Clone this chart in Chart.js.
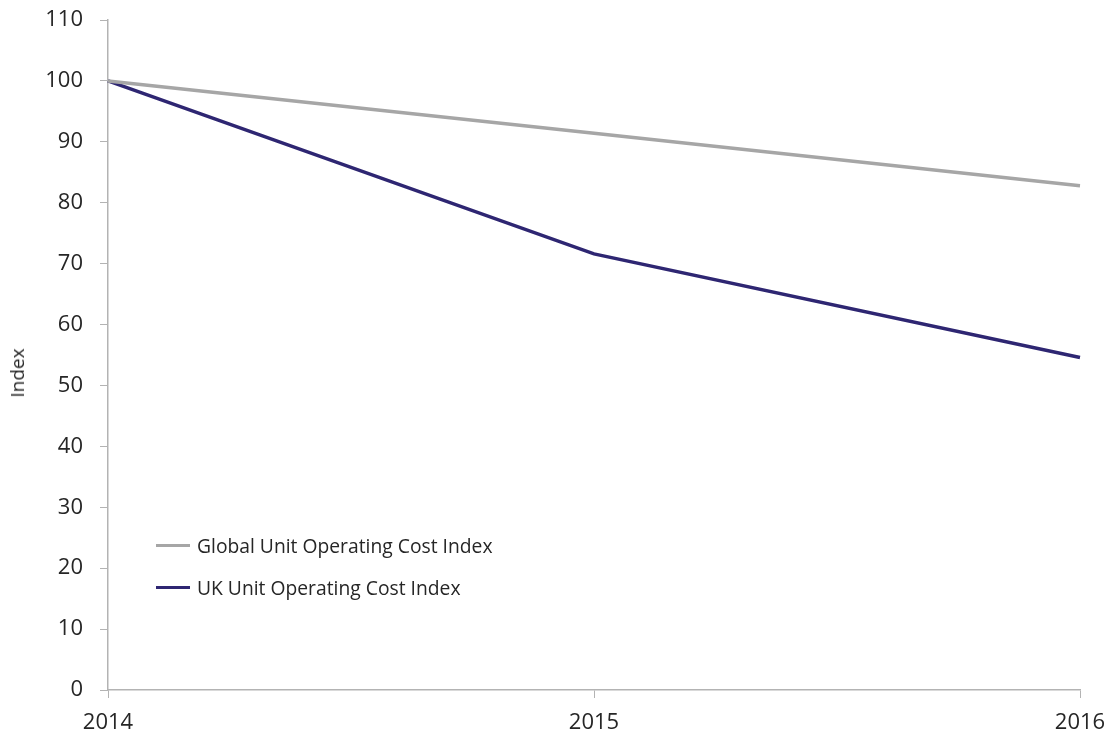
<!DOCTYPE html>
<html>
<head>
<meta charset="utf-8">
<script src="https://cdn.jsdelivr.net/npm/chart.js@4.4.1/dist/chart.umd.min.js"></script>
<style>
    html, body { margin: 0; padding: 0; background: #fff; }
    #wrap { position: relative; width: 1112px; height: 738px; }
    #legend { position: absolute; left: 156px; top: 524px; font-family: "Open Sans", sans-serif; font-size: 19.3px; color: #262626; }
    .leg-row { display: flex; align-items: center; height: 42px; }
    .leg-swatch { width: 34px; height: 3px; margin-right: 7px; }
    #ytitle { position: absolute; left: 17px; top: 373px; transform: translate(-50%, -50%) rotate(-90deg);
        font-family: "Open Sans", sans-serif; font-size: 19px; color: #262626; white-space: nowrap; }
</style>
</head>
<body>
<div id="wrap">
    <canvas id="chart" width="1112" height="738"></canvas>
    <div id="ytitle">Index</div>
    <div id="legend"></div>
</div>
<script>
// years on the x axis
const years = ['2014', '2015', '2016'];

// index values (2014 = 100)
const globalIndex = [100, 91.4, 82.8];
const ukIndex = [100, 71.6, 54.6];

const seriesNames = ['Global Unit Operating Cost Index', 'UK Unit Operating Cost Index'];
const seriesColors = ['#a6a6a6', '#2e2672'];

const AXIS_COLOR = '#b3b3b3';
const TEXT_COLOR = '#262626';
const tickFont = { family: '"Open Sans", sans-serif', size: 22 };

const ctx = document.getElementById('chart').getContext('2d');
new Chart(ctx, {
    type: 'line',
    data: {
        labels: years,
        datasets: [globalIndex, ukIndex].map((d, i) => ({
            label: seriesNames[i],
            data: d,
            borderColor: seriesColors[i],
            backgroundColor: seriesColors[i],
            borderWidth: 3.5,
            pointRadius: 0,
            tension: 0,
            fill: false
        }))
    },
    options: {
        responsive: false,
        animation: false,
        layout: { padding: { left: 0, right: 32, top: 20, bottom: 0 } },
        plugins: {
            legend: { display: false },
            tooltip: { enabled: false }
        },
        scales: {
            x: {
                offset: false,
                grid: { drawOnChartArea: false, drawTicks: true, tickLength: 8, color: AXIS_COLOR },
                border: { color: AXIS_COLOR, width: 1.5 },
                ticks: { color: TEXT_COLOR, font: tickFont, maxRotation: 0, padding: 12 },
                afterFit: s => { s.height = 48; s.paddingLeft = 0; s.paddingRight = 0; }
            },
            y: {
                min: 0,
                max: 110,
                grid: { drawOnChartArea: false, drawTicks: true, tickLength: 8, color: AXIS_COLOR },
                border: { color: AXIS_COLOR, width: 1.5 },
                ticks: { stepSize: 10, color: TEXT_COLOR, font: tickFont, padding: 17 },
                afterFit: s => { s.width = 108; s.paddingTop = 0; s.paddingBottom = 0; }
            }
        }
    }
});

// legend sits inside the plot area, like the original
document.getElementById('legend').innerHTML = seriesNames.map((n, i) => `
    <div class="leg-row"><span class="leg-swatch" style="background:${seriesColors[i]}"></span>${n}</div>
`).join('');
</script>
</body>
</html>
